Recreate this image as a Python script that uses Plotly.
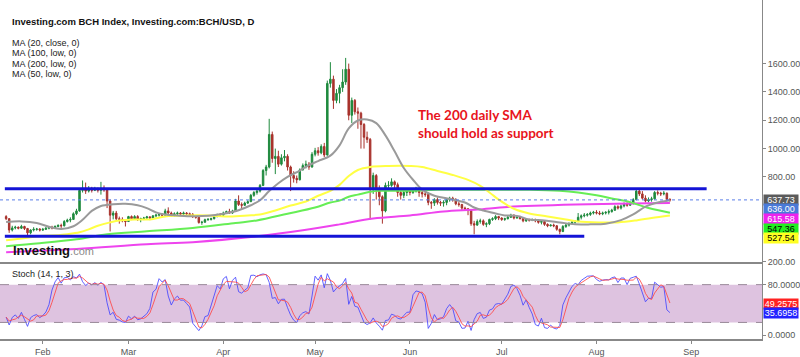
import pandas as pd
import plotly.graph_objects as go

# ---------------- data ----------------
start_date = "2021-01-20"
end_date = "2021-08-25"
first_open = 520

close_jan = [505, 425, 440, 445, 438, 450, 436, 405, 425, 430, 432, 425]
high_jan = [530, 510, 455, 455, 450, 462, 455, 440, 430, 445, 440, 438]
low_jan = [495, 405, 415, 430, 430, 432, 425, 385, 395, 415, 420, 415]

close_feb = [430, 438, 445, 440, 450, 458, 455, 485, 495, 500, 540, 560, 705, 720,
             700, 715, 705, 718, 705, 720, 708, 630, 530, 545, 505, 500, 490, 485]
high_feb = [440, 445, 452, 455, 458, 465, 470, 495, 505, 515, 550, 575, 715, 775,
            760, 735, 730, 730, 725, 765, 740, 720, 640, 560, 560, 520, 515, 500]
low_feb = [418, 425, 430, 430, 435, 445, 440, 450, 478, 480, 500, 530, 555, 690,
           680, 690, 690, 700, 690, 675, 695, 580, 415, 500, 495, 470, 480, 450]

close_mar = [520, 505, 520, 500, 505, 510, 518, 510, 525, 530, 535, 530, 560, 545,
             530, 540, 545, 538, 545, 540, 535, 520, 515, 478, 480, 498, 500, 505,
             520, 535, 530]
high_mar = [525, 528, 530, 530, 512, 518, 525, 520, 530, 540, 545, 545, 575, 585,
            555, 550, 555, 552, 555, 552, 548, 545, 530, 525, 490, 505, 510, 512,
            528, 540, 545]
low_mar = [485, 495, 500, 490, 480, 495, 500, 495, 505, 515, 520, 515, 525, 540,
           520, 520, 530, 528, 532, 530, 520, 510, 505, 470, 462, 478, 490, 492,
           500, 515, 520]

close_apr = [545, 555, 545, 560, 630, 605, 600, 615, 625, 670, 690, 700, 740, 845,
             870, 1100, 930, 945, 890, 935, 945, 870, 810, 790, 780, 850, 880, 890,
             870, 960]
high_apr = [555, 562, 575, 568, 645, 670, 620, 625, 635, 680, 700, 715, 750, 855,
            885, 1210, 1120, 1000, 985, 960, 990, 960, 880, 840, 810, 860, 895, 915,
            905, 975]
low_apr = [525, 540, 540, 540, 555, 595, 575, 595, 610, 630, 660, 675, 690, 735,
           810, 860, 900, 820, 870, 880, 910, 845, 700, 760, 755, 775, 845, 860,
           850, 865]

close_may = [985, 970, 1015, 955, 1460, 1490, 1340, 1390, 1430, 1470, 1560, 1235, 1340, 1260,
             1250, 1170, 1080, 1065, 720, 810, 720, 660, 560, 740, 740, 765, 745, 690,
             670, 690, 705]
high_may = [1005, 1010, 1030, 1040, 1480, 1610, 1515, 1420, 1450, 1560, 1640, 1600, 1360, 1350,
            1290, 1260, 1180, 1120, 1075, 830, 820, 740, 670, 760, 770, 790, 775, 760,
            705, 705, 715]
low_may = [945, 950, 960, 940, 950, 1430, 1280, 1320, 1320, 1400, 1450, 1200, 1180, 1240,
           1140, 1000, 1000, 1040, 500, 680, 640, 600, 470, 550, 700, 730, 720, 660,
           640, 650, 665]

close_jun = [690, 700, 715, 690, 680, 675, 620, 615, 640, 620, 615, 620, 640, 650,
             640, 610, 605, 580, 575, 565, 470, 460, 485, 490, 465, 470, 500, 505,
             520, 510]
high_jun = [720, 715, 730, 720, 705, 695, 690, 630, 650, 655, 630, 635, 650, 660,
            660, 650, 625, 610, 590, 580, 570, 490, 500, 505, 500, 480, 505, 515,
            530, 525]
low_jun = [670, 680, 690, 660, 655, 660, 600, 575, 595, 605, 595, 590, 600, 625,
           625, 600, 590, 565, 560, 530, 455, 395, 455, 470, 455, 445, 460, 490,
           495, 495]

close_jul = [500, 505, 515, 530, 510, 515, 505, 490, 498, 495, 500, 490, 480, 485,
             465, 455, 460, 455, 430, 415, 450, 460, 470, 480, 485, 515, 525, 530,
             535, 545, 550]
high_jul = [515, 512, 525, 540, 535, 525, 525, 510, 505, 505, 505, 505, 495, 490,
            490, 472, 465, 470, 460, 435, 460, 470, 480, 490, 495, 545, 535, 545,
            545, 555, 560]
low_jul = [490, 490, 500, 510, 500, 505, 500, 480, 482, 485, 488, 480, 470, 465,
           455, 445, 450, 445, 420, 395, 410, 440, 450, 465, 470, 480, 500, 515,
           520, 525, 535]

close_aug = [545, 540, 545, 550, 555, 565, 590, 580, 595, 610, 600, 615, 640, 700,
             680, 650, 630, 640, 645, 690, 685, 680, 685, 640, 637.73]
high_aug = [565, 560, 555, 558, 570, 575, 600, 600, 605, 620, 620, 625, 650, 712,
            715, 700, 670, 655, 660, 700, 705, 695, 700, 690, 650]
low_aug = [535, 530, 530, 535, 535, 548, 560, 570, 570, 585, 590, 595, 605, 635,
           665, 640, 620, 620, 625, 640, 670, 665, 670, 630, 625]

# Moving averages (date, value)
ma20_dates = ["2021-01-20", "2021-01-25", "2021-01-30", "2021-02-03", "2021-02-07", "2021-02-11",
              "2021-02-14", "2021-02-17", "2021-02-20", "2021-02-24", "2021-02-28", "2021-03-04",
              "2021-03-07", "2021-03-10", "2021-03-13", "2021-03-17", "2021-03-22", "2021-03-27",
              "2021-04-01", "2021-04-06", "2021-04-10", "2021-04-13", "2021-04-16", "2021-04-19",
              "2021-04-22", "2021-04-26", "2021-04-29", "2021-05-02", "2021-05-06", "2021-05-09",
              "2021-05-12", "2021-05-15", "2021-05-18", "2021-05-21", "2021-05-24", "2021-05-27",
              "2021-05-30", "2021-06-02", "2021-06-05", "2021-06-09", "2021-06-12", "2021-06-15",
              "2021-06-19", "2021-06-22", "2021-06-25", "2021-06-29", "2021-07-02", "2021-07-06",
              "2021-07-10", "2021-07-15", "2021-07-20", "2021-07-25", "2021-07-30", "2021-08-04",
              "2021-08-09", "2021-08-13", "2021-08-17", "2021-08-21", "2021-08-25"]
ma20_vals = [482, 486, 475, 448, 433, 452, 497, 560, 595, 607, 610, 600,
             580, 550, 535, 528, 522, 525, 540, 565, 600, 635, 700, 755,
             800, 845, 884, 912, 950, 1023, 1142, 1198, 1205, 1180, 1093, 981,
             863, 780, 710, 667, 653, 640, 619, 584, 563, 542, 528, 525,
             500, 493, 479, 465, 465, 470, 495, 535, 590, 619, 636]

ma50_dates = ["2021-01-20", "2021-01-23", "2021-01-28", "2021-02-01", "2021-02-06", "2021-02-09",
              "2021-02-13", "2021-02-16", "2021-02-19", "2021-02-23", "2021-02-26", "2021-03-03",
              "2021-03-08", "2021-03-13", "2021-03-20", "2021-03-27", "2021-04-03", "2021-04-09",
              "2021-04-13", "2021-04-18", "2021-04-23", "2021-04-28", "2021-05-02", "2021-05-06",
              "2021-05-09", "2021-05-12", "2021-05-15", "2021-05-19", "2021-05-25", "2021-06-01",
              "2021-06-05", "2021-06-10", "2021-06-15", "2021-06-20", "2021-06-24", "2021-06-27",
              "2021-07-01", "2021-07-05", "2021-07-10", "2021-07-16", "2021-07-22", "2021-07-26",
              "2021-08-02", "2021-08-08", "2021-08-14", "2021-08-19", "2021-08-25"]
ma50_vals = [353, 360, 374, 385, 388, 395, 409, 430, 455, 479, 493, 500,
             500, 521, 528, 528, 521, 528, 535, 563, 598, 626, 667, 702,
             744, 807, 849, 870, 877, 877, 870, 842, 814, 779, 737, 690,
             625, 575, 542, 521, 500, 486, 479, 479, 493, 510, 527.54]

ma100_dates = ["2021-01-20", "2021-01-31", "2021-02-12", "2021-02-22", "2021-03-07", "2021-03-22",
               "2021-04-05", "2021-04-12", "2021-04-22", "2021-05-01", "2021-05-06", "2021-05-09",
               "2021-05-12", "2021-05-15", "2021-05-19", "2021-05-22", "2021-06-01", "2021-06-10",
               "2021-06-25", "2021-07-10", "2021-07-20", "2021-07-26", "2021-08-01", "2021-08-06",
               "2021-08-12", "2021-08-18", "2021-08-25"]
ma100_vals = [311, 332, 360, 395, 416, 440, 475, 493, 540, 584, 619, 633,
              660, 675, 695, 702, 702, 709, 709, 709, 702, 690, 670, 648,
              622, 580, 547.36]

ma200_dates = ["2021-01-20", "2021-02-12", "2021-03-07", "2021-03-22", "2021-04-12", "2021-04-27",
               "2021-05-09", "2021-05-20", "2021-06-01", "2021-06-12", "2021-06-23", "2021-07-03",
               "2021-07-25", "2021-08-12", "2021-08-25"]
ma200_vals = [269, 291, 325, 339, 381, 423, 465, 507, 528, 556, 570, 588,
              605, 612, 615.58]

# horizontal levels drawn on the chart
level_values = [716, 381]
level_starts = ["2021-01-19 14:00", "2021-01-19 14:00"]
level_ends = ["2021-09-06", "2021-07-28"]

last_price = 637.73
legend_lines = ["MA (20, close, 0)", "MA (100, low, 0)", "MA (200, low, 0)", "MA (50, low, 0)"]
title_text = "Investing.com BCH Index, Investing.com:BCH/USD, D"
note_text = "The 200 daily SMA<br>should hold as support"
note_date = "2021-06-03"
note_price = 1175

price_label_values = [637.73, 636.00, 615.58, 547.36, 527.54]
stoch_label_values = [49.2575, 35.6958]

price_ticks = [200, 800, 1000, 1200, 1400, 1600]
stoch_ticks = [0, 80]

# ---------------- assemble ----------------
dates = pd.date_range(start_date, end_date, freq="D")
closes = close_jan + close_feb + close_mar + close_apr + close_may + close_jun + close_jul + close_aug
highs = high_jan + high_feb + high_mar + high_apr + high_may + high_jun + high_jul + high_aug
lows = low_jan + low_feb + low_mar + low_apr + low_may + low_jun + low_jul + low_aug
opens = [first_open] + closes[:-1]
highs = [max(h, o, c) for h, o, c in zip(highs, opens, closes)]
lows = [min(l, o, c) for l, o, c in zip(lows, opens, closes)]

df = pd.DataFrame({"o": opens, "h": highs, "l": lows, "c": closes}, index=dates)
hh = df["h"].rolling(14, min_periods=1).max()
ll = df["l"].rolling(14, min_periods=1).min()
stoch_k = 100 * (df["c"] - ll) / (hh - ll)
stoch_d = stoch_k.rolling(3, min_periods=1).mean()

# ---------------- geometry ----------------
W, H = 800, 357
ML, MR, MT, MB = 0, 35, 0, 14
PW, PH = W - ML - MR, H - MT - MB
DIV = 265  # px from top where stoch pane starts
split = 1 - DIV / PH
price_range = [200, 200 + DIV / 0.14333]
stoch_range = [-4 / 0.6375, (339 - DIV) / 0.6375]
x_range = ["2021-01-18 00:00", "2021-09-24 02:24"]


def px_x(px):
    return px / PW


def px_y(py):
    return 1 - py / PH


fig = go.Figure()

fig.add_trace(go.Candlestick(
    x=dates, open=df["o"], high=df["h"], low=df["l"], close=df["c"],
    increasing=dict(line=dict(color="#1f8a3e", width=1), fillcolor="#1f8a3e"),
    decreasing=dict(line=dict(color="#a8322c", width=1), fillcolor="#a8322c"),
    whiskerwidth=0, showlegend=False, xaxis="x", yaxis="y", hoverinfo="skip"))

ma_style = [
    (ma200_dates, ma200_vals, "#ee44ee"),
    (ma100_dates, ma100_vals, "#66ee55"),
    (ma50_dates, ma50_vals, "#ffff44"),
    (ma20_dates, ma20_vals, "#9a9a9a"),
]
for d, v, col in ma_style:
    fig.add_trace(go.Scatter(x=d, y=v, mode="lines", line=dict(color=col, width=2, shape="spline", smoothing=1.0),
                             showlegend=False, xaxis="x", yaxis="y", hoverinfo="skip"))

fig.add_trace(go.Scatter(x=dates, y=stoch_k, mode="lines", line=dict(color="rgba(70,70,255,0.85)", width=1),
                         showlegend=False, xaxis="x2", yaxis="y2", hoverinfo="skip"))
fig.add_trace(go.Scatter(x=dates, y=stoch_d, mode="lines", line=dict(color="rgba(255,70,70,0.85)", width=1),
                         showlegend=False, xaxis="x2", yaxis="y2", hoverinfo="skip"))

shapes = []
shapes.append(dict(type="rect", xref="x2 domain", yref="y2", x0=0, x1=1, y0=20, y1=80,
                   fillcolor="#dec3e0", line=dict(width=0), layer="below"))
for lv in (20, 80):
    shapes.append(dict(type="line", xref="x2 domain", yref="y2", x0=0, x1=1, y0=lv, y1=lv,
                       line=dict(color="#9a8a9a", width=1, dash="dash")))
for val, s, e in zip(level_values, level_starts, level_ends):
    shapes.append(dict(type="line", xref="x", yref="y", x0=s, x1=e, y0=val, y1=val,
                       line=dict(color="#1414d6", width=3)))
shapes.append(dict(type="line", xref="x domain", yref="y", x0=0, x1=1, y0=last_price, y1=last_price,
                   line=dict(color="#5a7ee8", width=1, dash="dot")))

annotations = []
annotations.append(dict(xref="paper", yref="paper", x=px_x(10), y=px_y(22), text="<b>" + title_text + "</b>",
                        showarrow=False, xanchor="left", yanchor="middle",
                        font=dict(family="Liberation Sans, Arial", size=9.5, color="#111")))
for i, t in enumerate(legend_lines):
    annotations.append(dict(xref="paper", yref="paper", x=px_x(10), y=px_y(43.5 + i * 10.5), text=t,
                            showarrow=False, xanchor="left", yanchor="middle",
                            font=dict(family="Liberation Sans, Arial", size=9, color="#222")))
annotations.append(dict(xref="paper", yref="paper", x=px_x(10), y=px_y(277), text="Stoch (14, 1, 3)",
                        showarrow=False, xanchor="left", yanchor="middle",
                        font=dict(family="Liberation Sans, Arial", size=9, color="#222")))
annotations.append(dict(xref="paper", yref="paper", x=px_x(11), y=px_y(253),
                        text="<b>Investing</b><span style='font-size:11px;color:#8a8a8a'>.com</span>",
                        showarrow=False, xanchor="left", yanchor="middle",
                        font=dict(family="Liberation Sans, Arial", size=13, color="#111")))
annotations.append(dict(xref="x", yref="y", x=note_date, y=note_price, text="<b>" + note_text + "</b>",
                        showarrow=False, xanchor="left", yanchor="middle", align="left",
                        font=dict(family="Lato, Open Sans", size=13.5, color="#e8141c")))

units_per_px = (price_range[1] - price_range[0]) / DIV
label_step = 9.7 * units_per_px
price_label_bg = ["#5b5b5b", "#4a7ad8", "#ee22ee", "#22ee22", "#ffff22"]
price_label_fg = ["white", "white", "white", "black", "black"]
prev = None
for val, bg, fg in zip(price_label_values, price_label_bg, price_label_fg):
    yv = val if prev is None else min(val, prev - label_step)
    prev = yv
    annotations.append(dict(xref="paper", yref="y", x=1.0, y=yv, text=f"{val:.2f}", showarrow=False,
                            xanchor="left", yanchor="middle", bgcolor=bg, borderpad=0, width=34, height=10,
                            font=dict(family="Liberation Sans, Arial", size=9, color=fg), xshift=1))
stoch_label_bg = ["#ff2222", "#2222ff"]
for val, bg in zip(stoch_label_values, stoch_label_bg):
    annotations.append(dict(xref="paper", yref="y2", x=1.0, y=val, text=f"{val:.4f}", showarrow=False,
                            xanchor="left", yanchor="middle", bgcolor=bg, borderpad=0, width=34, height=10,
                            font=dict(family="Liberation Sans, Arial", size=9, color="white"), xshift=1))

axis_font = dict(family="Liberation Sans, Arial", size=9, color="#555")
fig.update_layout(
    width=W, height=H, margin=dict(l=ML, r=MR, t=MT, b=MB),
    paper_bgcolor="white", plot_bgcolor="white",
    shapes=shapes, annotations=annotations, showlegend=False,
    xaxis=dict(domain=[0, 1], anchor="y", range=x_range, type="date", rangeslider=dict(visible=False),
               showticklabels=False, showgrid=False, zeroline=False, showline=True, linecolor="#888",
               linewidth=1.5, ticks=""),
    xaxis2=dict(domain=[0, 1], anchor="y2", range=x_range, type="date", matches="x",
                showgrid=False, zeroline=False, showline=True, linecolor="#888", linewidth=1.5,
                ticks="outside", ticklen=3, tickcolor="#888", dtick="M1", tick0="2021-02-01",
                tickformat="%b", tickfont=axis_font),
    yaxis=dict(domain=[split, 1], anchor="x", side="right", range=price_range, tickvals=price_ticks,
               tickformat=".2f", showgrid=False, zeroline=False, showline=True, linecolor="#888",
               ticks="outside", ticklen=3, tickcolor="#888", tickfont=axis_font),
    yaxis2=dict(domain=[0, split], anchor="x2", side="right", range=stoch_range, tickvals=stoch_ticks,
                tickformat=".4f", showgrid=False, zeroline=False, showline=True, linecolor="#888",
                ticks="outside", ticklen=3, tickcolor="#888", tickfont=axis_font),
)

fig.write_html("out.html", config={"displayModeBar": False},
               post_script="document.body.style.margin='0px';document.body.style.overflow='hidden';")
